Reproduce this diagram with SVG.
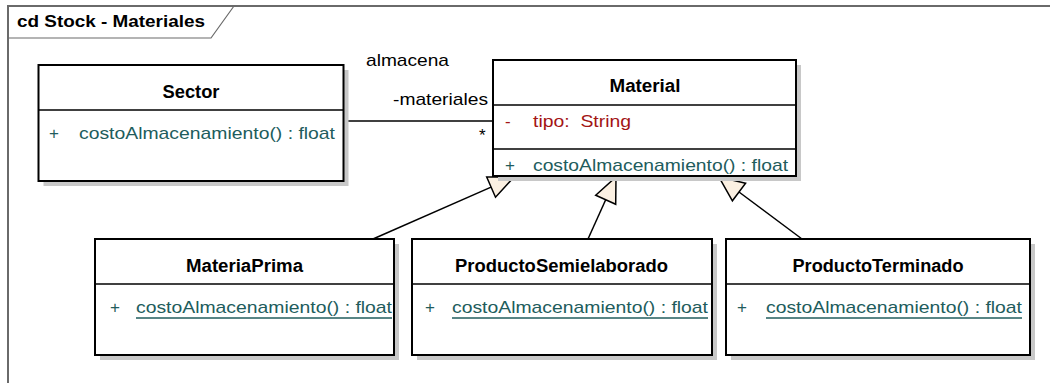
<svg xmlns="http://www.w3.org/2000/svg" width="1050" height="383" viewBox="0 0 1050 383">
<style>
text{font-family:"Liberation Sans",Arial,sans-serif;}
.ttl{font-size:18px;font-weight:bold;fill:#000;}
.frm{font-size:17px;font-weight:bold;fill:#000;}
.op{font-size:17px;fill:#215C5C;}
.at{font-size:17px;fill:#A31515;}
.lbl{font-size:17px;fill:#000;}
.box{fill:#fff;stroke:#000;stroke-width:2;}
.shd{fill:#C8C8C8;}
.sep{stroke:#000;stroke-width:1.5;}
.con{stroke:#000;stroke-width:1.5;fill:none;}
.tri{fill:#FBF0E2;stroke:#000;stroke-width:1.5;}
.ul{stroke:#215C5C;stroke-width:1.3;}
</style>
<defs>
<clipPath id="c1"><rect x="96" y="285" width="297" height="69"/></clipPath>
<clipPath id="c2"><rect x="413" y="285" width="298" height="69"/></clipPath>
<clipPath id="c3"><rect x="727" y="285" width="302" height="69"/></clipPath>
</defs>
<rect width="1050" height="383" fill="#fff"/>
<g id="frame">
<path d="M8,383 V6 H1050" fill="none" stroke="#6A6A6A" stroke-width="2"/>
<path d="M8,38 H211 L234,6" fill="none" stroke="#6A6A6A" stroke-width="1.2"/>
<text class="frm" x="17" y="27" textLength="188" lengthAdjust="spacingAndGlyphs">cd Stock - Materiales</text>
</g>
<g id="connectors">
<line class="con" x1="343" y1="121" x2="493" y2="121"/>
<text class="lbl" x="366" y="66" textLength="83" lengthAdjust="spacingAndGlyphs">almacena</text>
<text class="lbl" x="393" y="105" textLength="95" lengthAdjust="spacingAndGlyphs">-materiales</text>
<text class="lbl" x="479" y="141" font-size="14">*</text>
<line class="con" x1="373" y1="239" x2="491.1" y2="187.1"/>
<polygon class="tri" points="514,177 495.5,197.2 486.7,177"/>
<line class="con" x1="588" y1="239" x2="605.7" y2="199.8"/>
<polygon class="tri" points="616,177 615.7,204.3 595.7,195.3"/>
<line class="con" x1="802" y1="239" x2="739" y2="192"/>
<polygon class="tri" points="719,177 745.6,183.2 732.4,200.8"/>
</g>
<g id="Sector">
<rect class="shd" x="43.5" y="70" width="305" height="116"/>
<rect class="box" x="38.5" y="65" width="305" height="116"/>
<line class="sep" x1="38.5" y1="110" x2="343.5" y2="110"/>
<text class="ttl" x="191" y="97.5" text-anchor="middle" textLength="57" lengthAdjust="spacingAndGlyphs">Sector</text>
<text class="op" x="49" y="139">+</text>
<text class="op" x="79" y="139" textLength="256" lengthAdjust="spacingAndGlyphs">costoAlmacenamiento() : float</text>
</g>
<g id="Material">
<rect class="shd" x="498" y="65" width="303" height="116"/>
<rect class="box" x="493" y="60" width="303" height="116"/>
<line class="sep" x1="493" y1="105" x2="796" y2="105"/>
<line class="sep" x1="493" y1="149" x2="796" y2="149"/>
<text class="ttl" x="645" y="91.5" text-anchor="middle" textLength="71" lengthAdjust="spacingAndGlyphs">Material</text>
<text class="at" x="505" y="127">-</text>
<text class="at" x="533" y="127" textLength="98" lengthAdjust="spacingAndGlyphs" xml:space="preserve">tipo:  String</text>
<text class="op" x="505" y="171">+</text>
<text class="op" x="533" y="171" textLength="255" lengthAdjust="spacingAndGlyphs">costoAlmacenamiento() : float</text>
</g>
<g id="MateriaPrima">
<rect class="shd" x="100" y="244" width="299" height="116"/>
<rect class="box" x="95" y="239" width="299" height="116"/>
<line class="sep" x1="95" y1="284" x2="394" y2="284"/>
<text class="ttl" x="244.5" y="271.5" text-anchor="middle" textLength="117" lengthAdjust="spacingAndGlyphs">MateriaPrima</text>
<text class="op" x="110" y="313">+</text>
<g clip-path="url(#c1)">
<text class="op" x="136" y="313" textLength="256" lengthAdjust="spacingAndGlyphs">costoAlmacenamiento() : float</text>
<line class="ul" x1="136" y1="318" x2="392" y2="318"/>
</g>
</g>
<g id="ProductoSemielaborado">
<rect class="shd" x="417" y="244" width="300" height="116"/>
<rect class="box" x="412" y="239" width="300" height="116"/>
<line class="sep" x1="412" y1="284" x2="712" y2="284"/>
<text class="ttl" x="561.5" y="271.5" text-anchor="middle" textLength="213" lengthAdjust="spacingAndGlyphs">ProductoSemielaborado</text>
<text class="op" x="425" y="313">+</text>
<g clip-path="url(#c2)">
<text class="op" x="452" y="313" textLength="256" lengthAdjust="spacingAndGlyphs">costoAlmacenamiento() : float</text>
<line class="ul" x1="452" y1="318" x2="708" y2="318"/>
</g>
</g>
<g id="ProductoTerminado">
<rect class="shd" x="731" y="244" width="304" height="116"/>
<rect class="box" x="726" y="239" width="304" height="116"/>
<line class="sep" x1="726" y1="284" x2="1030" y2="284"/>
<text class="ttl" x="878" y="271.5" text-anchor="middle" textLength="171" lengthAdjust="spacingAndGlyphs">ProductoTerminado</text>
<text class="op" x="737" y="313">+</text>
<g clip-path="url(#c3)">
<text class="op" x="766" y="313" textLength="256" lengthAdjust="spacingAndGlyphs">costoAlmacenamiento() : float</text>
<line class="ul" x1="766" y1="318" x2="1022" y2="318"/>
</g>
</g>
</svg>
